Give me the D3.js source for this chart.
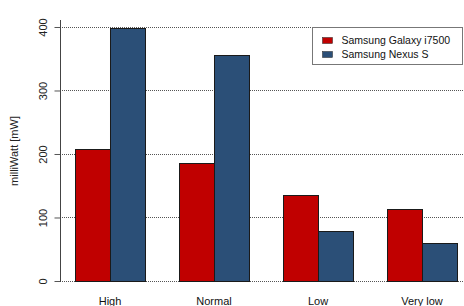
<!DOCTYPE html>
<html><head><meta charset="utf-8">
<script src="https://cdn.jsdelivr.net/npm/d3@7"></script>
<style>body{margin:0;background:#fff}svg{display:block;font-family:"Liberation Sans",Arial,sans-serif}</style>
</head><body><svg id="c" width="464" height="306"></svg>
<script>
const categories = ["High", "Normal", "Low", "Very low"];
const seriesNames = ["Samsung Galaxy i7500", "Samsung Nexus S"];
const galaxy = [208, 186, 136, 113];
const nexus = [398, 356, 79, 60];
const yTicks = [0, 100, 200, 300, 400];
const colors = ["#C00000", "#2B4F77"];

const svg = d3.select("#c");
const y = d3.scaleLinear().domain([0, 411]).range([281, 20]);
const x = d3.scaleBand().domain(categories).range([75, 457]).paddingInner(0.327).paddingOuter(0);
const xs = d3.scaleBand().domain(seriesNames).range([0, x.bandwidth()]);
const data = [galaxy, nexus];

// gridlines
svg.append("g").selectAll("line").data(yTicks).join("line")
  .attr("x1", 60).attr("x2", 464)
  .attr("y1", d => Math.round(y(d)) + 0.5).attr("y2", d => Math.round(y(d)) + 0.5)
  .attr("stroke", "#555").attr("stroke-width", 1).attr("stroke-dasharray", "1,1");

// y axis
const yAxis = d3.axisLeft(y).tickValues(yTicks).tickSize(6).tickPadding(8);
const ga = svg.append("g").attr("transform", "translate(60.5,0)").call(yAxis);
ga.select(".domain").remove();
ga.selectAll(".tick line").attr("stroke", "#555");
ga.selectAll(".tick text").attr("transform", "rotate(-90)").attr("text-anchor", "middle")
  .attr("x", 0).attr("y", -14).attr("dy", "0").attr("font-size", 11).attr("fill", "#222").attr("font-family", "Liberation Sans, Arial, sans-serif");
svg.append("line").attr("x1", 60.5).attr("x2", 60.5).attr("y1", 20).attr("y2", 282).attr("stroke", "#444");

// bars
const groups = svg.append("g").selectAll("g").data(categories).join("g")
  .attr("transform", d => `translate(${x(d)},0)`);
groups.selectAll("rect").data((c, i) => seriesNames.map((s, j) => ({s, v: data[j][i], j})))
  .join("rect")
  .attr("x", d => xs(d.s) + 0.5).attr("width", xs.bandwidth())
  .attr("y", d => Math.round(y(d.v)) + 0.5).attr("height", d => Math.round(y(0)) - Math.round(y(d.v)))
  .attr("fill", d => colors[d.j]).attr("stroke", "#1a1a1a").attr("stroke-width", 1);

// x labels
const xAxis = d3.axisBottom(x).tickSize(0).tickPadding(0);
const gx = svg.append("g").attr("transform", "translate(0,297)").call(xAxis);
gx.select(".domain").remove();
gx.selectAll("text").attr("font-size", 11).attr("fill", "#111").attr("font-family", "Liberation Sans, Arial, sans-serif").attr("dy", "0.71em");

// y label
svg.append("text").attr("transform", "translate(18,151) rotate(-90)").attr("text-anchor", "middle")
  .attr("font-size", 11).attr("fill", "#222").text("milliWatt [mW]");

// legend
const lg = svg.append("g").attr("transform", "translate(312.5,27.5)");
lg.append("rect").attr("width", 150).attr("height", 37).attr("fill", "#fff").attr("stroke", "#777");
seriesNames.forEach((s, i) => {
  lg.append("rect").attr("x", 10).attr("y", 10 + i * 14).attr("width", 10).attr("height", 6)
    .attr("fill", colors[i]).attr("stroke", "#222").attr("stroke-width", 0.5);
  lg.append("text").attr("x", 29).attr("y", 13 + i * 14).attr("dy", "0.35em")
    .attr("font-size", 10.5).attr("fill", "#111").text(s);
});
</script></body></html>
